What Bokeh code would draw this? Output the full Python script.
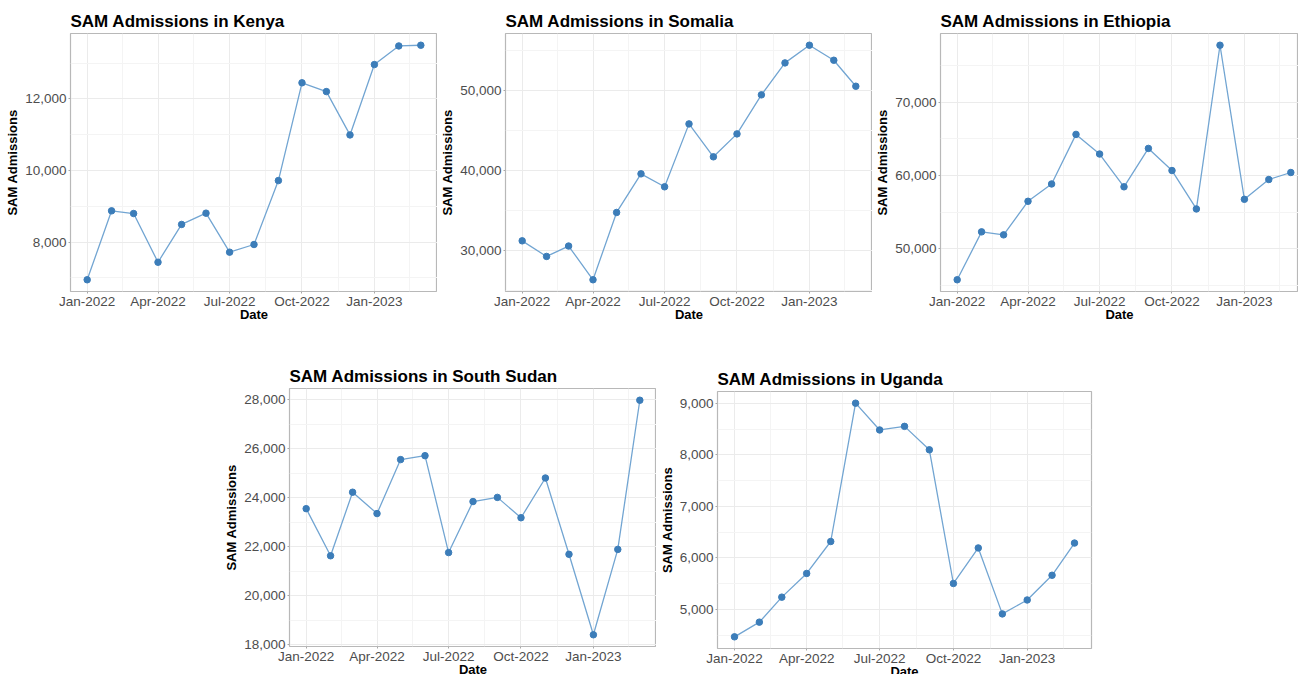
import numpy as np
import pandas as pd
from bokeh.plotting import figure
from bokeh.layouts import column, row
from bokeh.models import FixedTicker, NumeralTickFormatter, Spacer, ColumnDataSource
from bokeh.embed import file_html
from bokeh.resources import INLINE

# ---------------- data ----------------
months = ["2022-01-01", "2022-02-01", "2022-03-01", "2022-04-01", "2022-05-01",
          "2022-06-01", "2022-07-01", "2022-08-01", "2022-09-01", "2022-10-01",
          "2022-11-01", "2022-12-01", "2023-01-01", "2023-02-01", "2023-03-01"]

kenya = [6950, 8875, 8800, 7440, 8495, 8810, 7720, 7935, 9720, 12450, 12205, 10995, 12960, 13480, 13500]
somalia = [31200, 29250, 30550, 26330, 34750, 39580, 37960, 45830, 41710, 44580, 49460, 53460, 55670, 53790, 50540]
ethiopia = [45720, 52280, 51870, 56470, 58840, 65630, 62940, 58450, 63710, 60680, 55420, 77840, 56740, 59450, 60410]
south_sudan = [23550, 21630, 24220, 23350, 25550, 25710, 21760, 23840, 24010, 23180, 24800, 21690, 18410, 21890, 27970]
uganda = [4470, 4755, 5240, 5700, 6320, 9005, 8485, 8555, 8100, 5505, 6195, 4915, 5185, 5665, 6290]

x_tick_dates = ["2022-01-01", "2022-04-01", "2022-07-01", "2022-10-01", "2023-01-01"]
x_tick_labels = ["Jan-2022", "Apr-2022", "Jul-2022", "Oct-2022", "Jan-2023"]
x_minor_dates = ["2022-02-15", "2022-05-16", "2022-08-16", "2022-11-16", "2023-02-15"]

kenya_ticks = [8000, 10000, 12000]
kenya_minor = [7000, 9000, 11000, 13000]
somalia_ticks = [30000, 40000, 50000]
somalia_minor = [25000, 35000, 45000, 55000]
ethiopia_ticks = [50000, 60000, 70000]
ethiopia_minor = [45000, 55000, 65000, 75000]
south_sudan_ticks = [18000, 20000, 22000, 24000, 26000, 28000]
south_sudan_minor = [19000, 21000, 23000, 25000, 27000]
uganda_ticks = [5000, 6000, 7000, 8000, 9000]
uganda_minor = [4500, 5500, 6500, 7500, 8500]


def to_ms(dates):
    return pd.to_datetime(dates).values.astype("datetime64[ms]").astype("int64").tolist()


x_ms = to_ms(months)
xt_ms = to_ms(x_tick_dates)
xm_ms = to_ms(x_minor_dates)

FONT = "Liberation Sans"
LINE_COLOR = "#72A5D2"
PT_COLOR = "#3C7DB9"


def make_panel(country, values, yticks, yminor, frame_w, frame_h, bl, br, bt, bb, x_frac=1.0):
    xs = np.array(x_ms, dtype=float)
    span = xs.max() - xs.min()
    x0 = xs.min() - 0.05 * span
    x1 = xs.max() + 0.05 * span
    x1 = x0 + (x1 - x0) * x_frac
    v = np.array(values, dtype=float)
    vr = v.max() - v.min()
    y0 = v.min() - 0.05 * vr
    y1 = v.max() + 0.05 * vr

    p = figure(frame_width=frame_w, frame_height=frame_h,
               x_range=(x0, x1), y_range=(y0, y1),
               output_backend="svg", toolbar_location=None,
               min_border_left=bl, min_border_right=br,
               min_border_top=bt, min_border_bottom=bb,
               title="SAM Admissions in " + country)
    p.background_fill_color = "white"
    p.border_fill_color = "white"
    p.outline_line_color = "#B8B8B8"
    p.outline_line_width = 1.2

    p.title.text_font = FONT
    p.title.text_font_style = "bold"
    p.title.text_font_size = "17px"
    p.title.text_color = "black"
    p.title.align = "left"
    p.title.standoff = 5
    p.title.offset = 0

    src = ColumnDataSource(dict(x=x_ms, y=values))
    p.line("x", "y", source=src, line_color=LINE_COLOR, line_width=1.3)
    p.scatter("x", "y", source=src, size=6.5, fill_color=PT_COLOR, line_color=PT_COLOR)

    p.xaxis.ticker = FixedTicker(ticks=xt_ms, minor_ticks=xm_ms)
    p.xaxis.major_label_overrides = {k: lab for k, lab in zip(xt_ms, x_tick_labels)}
    p.yaxis.ticker = FixedTicker(ticks=yticks, minor_ticks=yminor)
    p.yaxis.formatter = NumeralTickFormatter(format="0,0")

    p.xaxis.axis_label = "Date"
    p.yaxis.axis_label = "SAM Admissions"
    for ax in (p.xaxis, p.yaxis):
        ax.axis_line_color = None
        ax.major_tick_line_color = "#A8A8A8"
        ax.major_tick_out = 2
        ax.major_tick_in = 0
        ax.minor_tick_line_color = None
        ax.major_label_text_font = FONT
        ax.major_label_text_font_size = "13.5px"
        ax.major_label_text_color = "#4D4D4D"
        ax.major_label_standoff = 0
        ax.axis_label_text_font = FONT
        ax.axis_label_text_font_style = "bold"
        ax.axis_label_text_font_size = "13px"
        ax.axis_label_text_color = "black"
        ax.axis_label_standoff = 2
    p.xaxis.major_label_standoff = -2
    p.xaxis.axis_label_standoff = -5

    for g in (p.xgrid, p.ygrid):
        g.grid_line_color = "#EBEBEB"
        g.grid_line_width = 1
        g.minor_grid_line_color = "#F4F4F4"
        g.minor_grid_line_width = 1
    return p


# row 1 (frame top 33, frame bottom 291, row height 355)
p_ken = make_panel("Kenya", kenya, kenya_ticks, kenya_minor, 367, 258, 70, 0, 33, 64)
p_som = make_panel("Somalia", somalia, somalia_ticks, somalia_minor, 367, 258, 67, 0, 33, 64)
p_eth = make_panel("Ethiopia", ethiopia, ethiopia_ticks, ethiopia_minor, 358, 258, 67, 0, 33, 64,
                   x_frac=358 / 367)

# row 2 (starts at y 355)
p_ssd = make_panel("South Sudan", south_sudan, south_sudan_ticks, south_sudan_minor, 367, 258, 67, 0, 33, 20)
p_uga = make_panel("Uganda", uganda, uganda_ticks, uganda_minor, 374, 257, 61, 2, 33, 20)

layout = column(row(p_ken, p_som, p_eth),
                row(Spacer(width=221, height=10), p_ssd,
                    column(Spacer(width=10, height=3), p_uga)))

open("out.html", "w").write(file_html(layout, INLINE))
